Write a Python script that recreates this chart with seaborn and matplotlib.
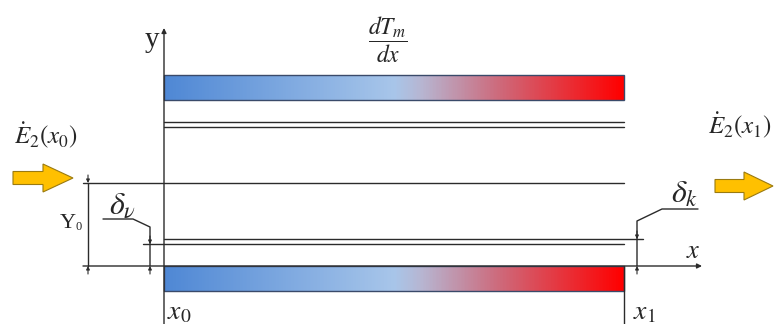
import numpy as np
import matplotlib
matplotlib.use("Agg")
import matplotlib.pyplot as plt
from matplotlib.colors import LinearSegmentedColormap
from matplotlib.patches import Polygon, Rectangle
import seaborn as sns

# schematic geometry (pixel units of the 776x324 drawing, y downward)
X0, X1 = 164, 624
TOP_BAR = (75, 100)
BOT_BAR = (266, 291)
DOUBLE_LINES = [122, 127]
Y0_LINE = 183
WALL_LINES = [239, 244]
X_AXIS = 266

# temperature gradient colours along the bar
GRAD_POS = [0.0, 0.5, 0.56, 0.72, 1.0]
GRAD_COLORS = ["#4F88D5", "#A8C6EA", "#B7B6D2", "#CC6E80", "#FF0000"]

# energy flow arrows: (tail x, tip x, centre y)
ARROWS = [(13, 73, 178), (715, 773, 186)]
ARROW_COLOR = "#FFC000"

sns.set_theme(style="white")
plt.rcParams["mathtext.fontset"] = "stix"
plt.rcParams["font.family"] = ["DejaVu Sans"]

fig = plt.figure(figsize=(7.76, 3.24), dpi=100)
ax = fig.add_axes([0, 0, 1, 1])

lc = "#2b2b2b"
lw = 1.0

cmap = LinearSegmentedColormap.from_list("tm", list(zip(GRAD_POS, GRAD_COLORS)))
grad = np.linspace(0, 1, 400).reshape(1, -1)
for y_top, y_bot in [TOP_BAR, BOT_BAR]:
    ax.imshow(grad, cmap=cmap, aspect="auto", extent=(X0, X1, y_bot, y_top), zorder=1)
    ax.add_patch(Rectangle((X0, y_top), X1 - X0, y_bot - y_top, fill=False,
                           ec="#3a4a6a", lw=1.0, zorder=2))
ax.set_xlim(0, 776)
ax.set_ylim(324, 0)
ax.axis("off")

# horizontal lines
for y in DOUBLE_LINES:
    ax.plot([X0, X1], [y, y], color=lc, lw=lw)
ax.plot([83, X1], [Y0_LINE, Y0_LINE], color=lc, lw=lw)
ax.plot([X0, 643], [WALL_LINES[0]] * 2, color=lc, lw=lw)
ax.plot([143, X1], [WALL_LINES[1]] * 2, color=lc, lw=lw)

# axes
ax.annotate("", xy=(X0, 28), xytext=(X0, 324),
            arrowprops=dict(arrowstyle="-|>", color=lc, lw=lw, mutation_scale=7, shrinkA=0, shrinkB=0))
ax.annotate("", xy=(702, X_AXIS), xytext=(83, X_AXIS),
            arrowprops=dict(arrowstyle="-|>", color=lc, lw=lw, mutation_scale=7, shrinkA=0, shrinkB=0))
ax.plot([X1, X1], [BOT_BAR[0], 324], color=lc, lw=lw)


def dim_arrow(x, y_tip, y_from):
    ax.annotate("", xy=(x, y_tip), xytext=(x, y_from),
                arrowprops=dict(arrowstyle="-|>", color=lc, lw=0.8, mutation_scale=5,
                                shrinkA=0, shrinkB=0))


# Y0 dimension
ax.plot([88, 88], [Y0_LINE, X_AXIS], color=lc, lw=lw)
dim_arrow(88, Y0_LINE, Y0_LINE - 8)
dim_arrow(88, X_AXIS, X_AXIS + 8)

# delta_v dimension
ax.plot([150, 150, 133, 103], [X_AXIS, 227, 219, 219], color=lc, lw=lw)
dim_arrow(150, WALL_LINES[1], WALL_LINES[1] - 8)
dim_arrow(150, X_AXIS, X_AXIS + 8)

# delta_k dimension
ax.plot([637, 637, 662, 698], [X_AXIS, 221, 209, 209], color=lc, lw=lw)
dim_arrow(637, WALL_LINES[0], WALL_LINES[0] - 8)
dim_arrow(637, X_AXIS, X_AXIS + 8)

# energy arrows
for x_tail, x_tip, yc in ARROWS:
    hb = x_tail + (x_tip - x_tail) * 0.5
    pts = [(x_tail, yc - 6.5), (hb, yc - 6.5), (hb, yc - 14), (x_tip, yc),
           (hb, yc + 14), (hb, yc + 6.5), (x_tail, yc + 6.5)]
    ax.add_patch(Polygon(pts, closed=True, fc=ARROW_COLOR, ec="#9a7a10", lw=0.8, zorder=3))

# labels
ax.text(152, 40, "y", fontsize=21, family="Liberation Serif", ha="center", va="center")
ax.text(693, 251, r"$x$", fontsize=19, ha="center", va="center")
ax.text(388, 40, r"$\dfrac{dT_m}{dx}$", fontsize=17, ha="center", va="center")
ax.text(179, 311, r"$x_0$", fontsize=20, ha="center", va="center")
ax.text(644, 311, r"$x_1$", fontsize=20, ha="center", va="center")
ax.text(122, 205, r"$\delta_\nu$", fontsize=23, ha="center", va="center")
ax.text(685, 194, r"$\delta_k$", fontsize=23, ha="center", va="center")
ax.text(46, 136, r"$\dot{E}_2(x_0)$", fontsize=18, ha="center", va="center")
ax.text(740, 126, r"$\dot{E}_2(x_1)$", fontsize=18, ha="center", va="center")
ax.text(68, 224, "Y", fontsize=16, family="Liberation Serif", ha="center", va="center")
ax.text(79, 227, "0", fontsize=9, family="Liberation Serif", ha="center", va="center")

fig.savefig("out.png", dpi=100)
